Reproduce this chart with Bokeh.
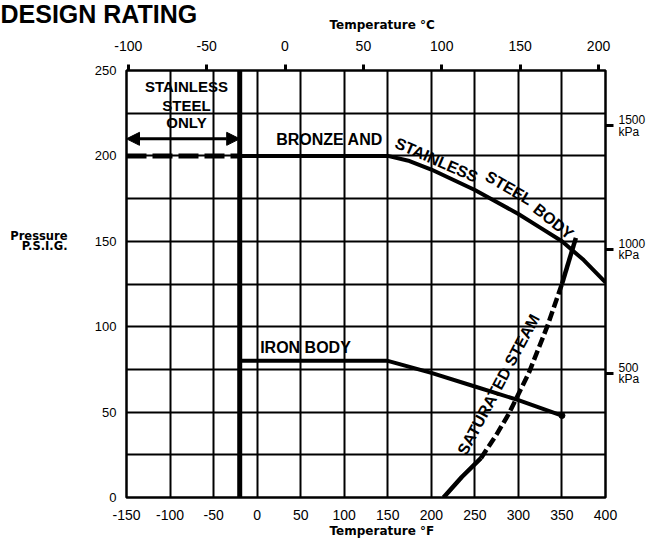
from bokeh.plotting import figure
from bokeh.models import Range1d, LinearAxis, FixedTicker, Label, Arrow, NormalHead, Span, Title
from bokeh.embed import file_html
from bokeh.resources import INLINE

# ---------------- data ----------------
temp_f_ticks = [-150, -100, -50, 0, 50, 100, 150, 200, 250, 300, 350, 400]
temp_c_ticks = [-100, -50, 0, 50, 100, 150, 200]
psi_ticks = [0, 50, 100, 150, 200, 250]
psi_grid = [0, 25, 50, 75, 100, 125, 150, 175, 200, 225, 250]
kpa_ticks = [500, 1000, 1500]
kpa_labels = {500: "500\nkPa", 1000: "1000\nkPa", 1500: "1500\nkPa"}
pressure_title_at = 150

ss_only_f = [-150, -20]
ss_only_p = [200, 200]
arrow_p = 210
limit_f = -20

bronze_f = [-20, 150, 175, 200, 225, 250, 275, 300, 325, 350, 375, 400]
bronze_p = [200, 200, 197, 192, 186, 180, 173, 166, 158, 150, 139, 126]

iron_f = [-20, 150, 200, 250, 300, 350]
iron_p = [80, 80, 73, 65, 57, 48]

steam_f = [214, 235, 257, 275, 289, 312, 333, 350, 366]
steam_p = [0, 12, 23, 37, 49, 73, 100, 125, 152]

F_MIN, F_MAX = -150, 400
P_MIN, P_MAX = 0, 250
PSI_PER_KPA = 1 / 6.89476


def f2c(f):
    return (f - 32) * 5 / 9


# ---------------- figure ----------------
FX0, FX1, FY0, FY1 = 126, 605, 70, 497  # frame edges on the page
W, H = 648, 546
p = figure(width=W, height=H, x_range=Range1d(F_MIN, F_MAX), y_range=Range1d(P_MIN, P_MAX),
           output_backend="svg", toolbar_location=None,
           min_border_left=FX0, min_border_right=W - FX1, min_border_top=FY0,
           min_border_bottom=H - FY1)
p.title.visible = False
p.background_fill_color = "white"
p.border_fill_color = "white"
p.outline_line_color = "black"
p.outline_line_width = 2.5

FONT = "Liberation Sans"
BOLD_SMALL = "DejaVu Sans"


def style_axis(ax, size):
    ax.axis_line_color = None
    ax.major_tick_in = 0
    ax.minor_tick_in = 0
    ax.minor_tick_out = 0
    ax.major_label_text_font = FONT
    ax.major_label_text_font_size = size
    ax.major_label_text_color = "black"


xb = p.xaxis[0]
xb.ticker = FixedTicker(ticks=temp_f_ticks)
style_axis(xb, "14px")
xb.major_tick_out = 0
xb.major_label_standoff = 12
xb.major_label_overrides = {t: str(t) for t in temp_f_ticks}

yl = p.yaxis[0]
yl.ticker = FixedTicker(ticks=psi_ticks)
style_axis(yl, "13px")
yl.major_tick_out = 0
yl.major_label_standoff = 10

# outer left "axis" carrying the horizontal pressure title
yt = LinearAxis(ticker=FixedTicker(ticks=[pressure_title_at]),
                major_label_overrides={pressure_title_at: "Pressure\nP.S.I.G."})
style_axis(yt, "11.5px")
yt.major_tick_out = 0
yt.major_label_text_font = BOLD_SMALL
yt.major_label_text_font_style = "bold"
yt.major_label_text_line_height = 0.72
yt.major_label_standoff = 24
p.add_layout(yt, "left")

p.xgrid.ticker = FixedTicker(ticks=temp_f_ticks)
p.ygrid.ticker = FixedTicker(ticks=psi_grid)
for g in (p.xgrid[0], p.ygrid[0]):
    g.grid_line_color = "black"
    g.grid_line_width = 2
    g.grid_line_alpha = 1

# top Celsius axis
p.extra_x_ranges = {"c": Range1d(f2c(F_MIN), f2c(F_MAX))}
xc = LinearAxis(x_range_name="c", ticker=FixedTicker(ticks=temp_c_ticks),
                major_label_overrides={t: str(t) for t in temp_c_ticks})
style_axis(xc, "14px")
xc.major_tick_out = 6
xc.major_tick_line_width = 3
xc.major_tick_line_color = "black"
xc.major_label_standoff = 14
p.add_layout(xc, "above")

# right kPa axis
p.extra_y_ranges = {"kpa": Range1d(P_MIN / PSI_PER_KPA, P_MAX / PSI_PER_KPA)}
yk = LinearAxis(y_range_name="kpa", ticker=FixedTicker(ticks=kpa_ticks),
                major_label_overrides=kpa_labels)
style_axis(yk, "12px")
yk.major_label_text_line_height = 0.8
yk.major_tick_out = 8
yk.major_tick_line_width = 3
yk.major_tick_line_color = "black"
yk.major_label_standoff = 5
p.add_layout(yk, "right")

# titles in the side panels
p.add_layout(Title(text="Temperature °C", align="left", offset=203, vertical_align="top",
                   standoff=7, text_font=BOLD_SMALL, text_font_size="12px",
                   text_font_style="bold", text_color="black"), "above")
p.add_layout(Title(text="DESIGN RATING", align="left", offset=-FX0, vertical_align="middle",
                   standoff=-28, text_font=FONT, text_font_size="25px",
                   text_font_style="bold", text_color="black"), "above")
p.add_layout(Title(text="Temperature °F", align="left", offset=203, vertical_align="middle",
                   standoff=0, text_font=BOLD_SMALL, text_font_size="12px",
                   text_font_style="bold", text_color="black"), "below")

# ---------------- marks ----------------
p.add_layout(Span(location=limit_f, dimension="height", line_color="black", line_width=5))
p.line(ss_only_f, ss_only_p, line_color="black", line_width=5, line_dash="20 6")
p.line(bronze_f, bronze_p, line_color="black", line_width=4)
p.line(iron_f, iron_p, line_color="black", line_width=4)
p.scatter([iron_f[-1]], [iron_p[-1]], size=6, color="black")
p.line(steam_f[:3], steam_p[:3], line_color="black", line_width=4.5)
p.line(steam_f[2:8], steam_p[2:8], line_color="black", line_width=4.5, line_dash="10 4")
p.line(steam_f[7:], steam_p[7:], line_color="black", line_width=4.5)

p.add_layout(Arrow(start=NormalHead(size=13, fill_color="black", line_color="black"),
                   end=NormalHead(size=13, fill_color="black", line_color="black"),
                   x_start=ss_only_f[0], y_start=arrow_p, x_end=ss_only_f[1], y_end=arrow_p,
                   line_color="black", line_width=3))


# ---------------- texts inside the frame ----------------
def px2f(x):
    return F_MIN + (x - FX0) * (F_MAX - F_MIN) / (FX1 - FX0)


def py2p(y):
    return P_MIN + (FY1 - y) * (P_MAX - P_MIN) / (FY1 - FY0)


def lab(text, x, y, size, angle=0.0):
    p.add_layout(Label(x=px2f(x), y=py2p(y), text=text, text_font=FONT, text_font_size=size,
                       text_font_style="bold", text_color="black",
                       angle=angle, text_align="center", text_baseline="middle"))


lab("STAINLESS", 186, 86, "15px")
lab("STEEL", 186, 105, "15px")
lab("ONLY", 186, 122, "15px")

lab("BRONZE AND", 329, 139, "16px")
lab("STAINLESS", 436, 159.5, "16px", angle=-0.415)
lab("STEEL", 508.5, 187.5, "16px", angle=-0.524)
lab("BODY", 553, 221, "16px", angle=-0.675)
lab("IRON BODY", 305, 346.5, "16px")
lab("SATURATED STEAM", 498, 384, "16px", angle=1.082)

open("out.html", "w").write(file_html(p, INLINE))
